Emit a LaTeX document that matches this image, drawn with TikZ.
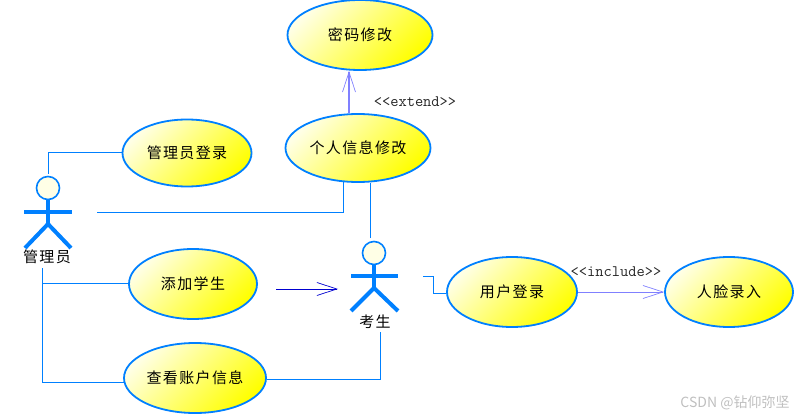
\documentclass[tikz,border=0pt]{standalone}
\usepackage{xcolor}
\usepackage{fontspec}
\usetikzlibrary{arrows.meta,shapes.geometric}
\newfontfamily\cjk[LetterSpace=9]{Noto Sans CJK SC}
\newfontfamily\cjkmark{Noto Sans CJK SC}
\definecolor{umlblue}{HTML}{0080FF}
\definecolor{umlviolet}{HTML}{8080FF}
\definecolor{umlnavy}{HTML}{0000D0}
\definecolor{umlpale}{HTML}{FFFFE6}
\tikzset{
  usecase/.style={ellipse,draw=umlblue,line width=1.8pt,inner sep=0pt,left color=umlpale,right color=yellow,shading angle=45,font=\fontsize{15}{15}\selectfont\cjk},
  actorhead/.style={circle,draw=umlblue,line width=1.6pt,fill=umlpale,inner sep=0pt,minimum size=23pt},
  actorlimb/.style={draw=umlblue,line width=4pt},
  actorname/.style={font=\fontsize{15}{15}\selectfont\cjk,inner sep=0pt},
  assoc/.style={draw=umlblue,line width=1pt},
  stereo/.style={font=\fontsize{16}{16}\selectfont\ttfamily,inner sep=0pt,text=black!85},
  dep/.style={draw=umlviolet,-{Straight Barb[length=20pt,width=13pt,line width=0.7pt]}},
  gen/.style={draw=umlnavy,line width=1pt,-{Straight Barb[length=20pt,width=13pt,line width=0.7pt]}}
}
\begin{document}
\begin{tikzpicture}[x=1pt,y=-1pt]
\useasboundingbox (0,0) rectangle (798,417);
\node[usecase,minimum width=145pt,minimum height=70pt] (pwd) at (360,35) {密码修改};
\node[usecase,minimum width=145pt,minimum height=68pt] (info) at (358,148) {个人信息修改};
\node[usecase,minimum width=129pt,minimum height=67pt] (adminlogin) at (187,153) {管理员登录};
\node[usecase,minimum width=128pt,minimum height=70pt] (addstu) at (193,284) {添加学生};
\node[usecase,minimum width=142pt,minimum height=70pt] (account) at (195,378) {查看账户信息};
\node[usecase,minimum width=130pt,minimum height=70pt] (stulogin) at (512,292) {用户登录};
\node[usecase,minimum width=128pt,minimum height=70pt] (face) at (729,292) {人脸录入};
\node[actorhead] (adminhead) at (48,188) {};
\coordinate (adminhip) at (48,224);
\coordinate (adminarml) at (24,212);
\coordinate (adminarmr) at (72,212);
\coordinate (adminfootl) at (25,248);
\coordinate (adminfootr) at (71,248);
\draw[actorlimb] (adminhead.south) -- (adminhip);
\draw[actorlimb] (adminarml) -- (adminarmr);
\draw[actorlimb] (adminfootl) -- (adminhip) -- (adminfootr);
\node[actorname] (adminname) at (47,257) {管理员};
\node[actorhead] (stuhead) at (374,253) {};
\coordinate (stuhip) at (374,288);
\coordinate (stuarml) at (351,276);
\coordinate (stuarmr) at (398,276);
\coordinate (stufootl) at (351,311);
\coordinate (stufootr) at (398,311);
\draw[actorlimb] (stuhead.south) -- (stuhip);
\draw[actorlimb] (stuarml) -- (stuarmr);
\draw[actorlimb] (stufootl) -- (stuhip) -- (stufootr);
\node[actorname] (stuname) at (375,322) {考生};
\coordinate (admintop) at (48,174);
\coordinate (adminright) at (97,212);
\coordinate (adminbelow) at (42.5,268);
\coordinate (adminbranch) at (42.5,283);
\coordinate (stutop) at (370.5,238);
\coordinate (sturight) at (423,276);
\coordinate (stubelow) at (380,332);
\coordinate (genstart) at (276,289);
\coordinate (genend) at (338,289);
\coordinate (extendline) at (349,90);
\draw[assoc] (admintop) |- (adminlogin.west);
\draw[assoc] (adminright) -| (info.247);
\draw[assoc] (stutop) -- (stutop |- info.south);
\draw[assoc] (adminbelow) |- (account.184);
\draw[assoc] (adminbranch) -- (adminbranch -| addstu.west);
\draw[assoc] (account.359) -| (stubelow);
\draw[assoc] (sturight) -- +(10,0) |- (stulogin.181);
\draw[gen] (genstart) -- (genend);
\draw[dep,line width=2pt] (extendline |- info.north) -- (extendline |- pwd.south);
\draw[dep,line width=1pt] (stulogin.east) -- (face.west);
\node[stereo] (extendlabel) at (415,102) {<{}<extend>{}>};
\node[stereo] (includelabel) at (616,272) {<{}<include>{}>};
\node[font=\fontsize{14}{14}\selectfont\cjkmark,text=black!25,inner sep=0pt] (mark) at (735,403) {CSDN @钻仰弥坚};
\end{tikzpicture}
\end{document}
